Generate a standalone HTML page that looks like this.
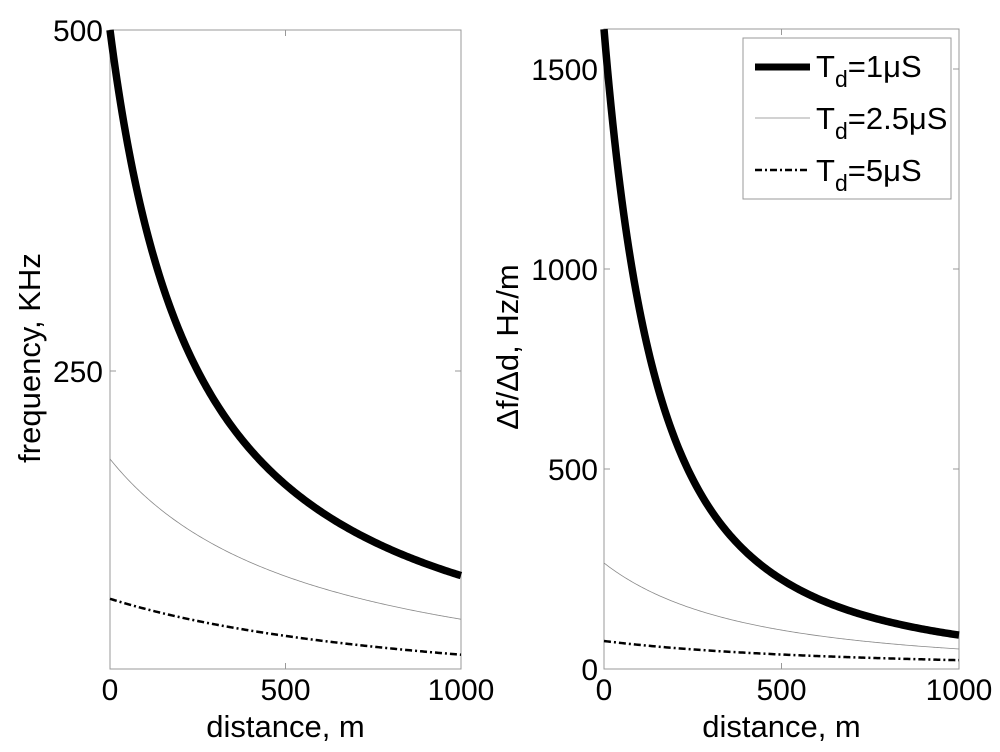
<!DOCTYPE html>
<html><head><meta charset="utf-8"><style>
body{margin:0;background:#fff;width:1000px;height:752px;overflow:hidden}
svg{display:block;font-family:"Liberation Sans",Arial,sans-serif}
</style></head><body>
<svg id="s" width="1000" height="752" viewBox="0 0 1000 752">
<rect width="1000" height="752" fill="#fff"/>
<rect x="110" y="30" width="351" height="639" fill="none" stroke="#999" stroke-width="1"/>
<g stroke="#999" stroke-width="1">
<line x1="285.5" y1="669" x2="285.5" y2="663"/><line x1="285.5" y1="30" x2="285.5" y2="36"/>
<line x1="110" y1="371" x2="116" y2="371"/><line x1="461" y1="371" x2="455" y2="371"/>
<line x1="604" y1="469" x2="610" y2="469"/><line x1="959" y1="469" x2="953" y2="469"/>
<line x1="604" y1="269" x2="610" y2="269"/><line x1="959" y1="269" x2="953" y2="269"/>
<line x1="604" y1="69" x2="610" y2="69"/><line x1="959" y1="69" x2="953" y2="69"/>
<line x1="781.5" y1="669" x2="781.5" y2="663"/><line x1="781.5" y1="29" x2="781.5" y2="35"/>
</g>
<rect x="604" y="29" width="355" height="640" fill="none" stroke="#999" stroke-width="1"/>
<g font-size="30" fill="#000">
<text x="103" y="41" text-anchor="end">500</text>
<text x="103" y="382" text-anchor="end">250</text>
<text x="110" y="700" text-anchor="middle">0</text>
<text x="285.5" y="700" text-anchor="middle">500</text>
<text x="461" y="700" text-anchor="middle">1000</text>
<text x="598" y="80" text-anchor="end">1500</text>
<text x="598" y="280" text-anchor="end">1000</text>
<text x="598" y="480" text-anchor="end">500</text>
<text x="598" y="680" text-anchor="end">0</text>
<text x="604" y="700" text-anchor="middle">0</text>
<text x="781.5" y="700" text-anchor="middle">500</text>
<text x="959" y="700" text-anchor="middle">1000</text>
</g>
<g font-size="31" fill="#000">
<text x="285.5" y="737" text-anchor="middle">distance, m</text>
<text x="781.5" y="737" text-anchor="middle">distance, m</text>
<text transform="translate(40,358) rotate(-90)" text-anchor="middle">frequency, KHz</text>
<text transform="translate(518,347) rotate(-90)" text-anchor="middle">Δf/Δd, Hz/m</text>
</g>
<g id="curves" fill="none"></g>
<rect x="743" y="38" width="208" height="161" fill="#fff" stroke="#999" stroke-width="1"/>
<line x1="755" y1="67" x2="810" y2="67" stroke="#000" stroke-width="7"/>
<line x1="755" y1="118" x2="810" y2="118" stroke="#888" stroke-width="0.8"/>
<line x1="755" y1="170" x2="810" y2="170" stroke="#000" stroke-width="2.5" stroke-dasharray="7,3,2,3"/>
<g font-size="31" fill="#000">
<text x="816" y="77">T<tspan font-size="23" dy="10">d</tspan><tspan dy="-10">=1μS</tspan></text>
<text x="816" y="129">T<tspan font-size="23" dy="10">d</tspan><tspan dy="-10">=2.5μS</tspan></text>
<text x="816" y="181">T<tspan font-size="23" dy="10">d</tspan><tspan dy="-10">=5μS</tspan></text>
</g>
</svg>
<script>
(function(){
var g=document.getElementById('curves');
function path(fn,xm,ym,attrs){
 var d='';
 for(var i=0;i<=200;i++){var x=i*5;var X=xm(x),Y=ym(fn(x));d+=(i?'L':'M')+X.toFixed(2)+' '+Y.toFixed(2);}
 var p=document.createElementNS('http://www.w3.org/2000/svg','path');
 p.setAttribute('d',d);for(var k in attrs)p.setAttribute(k,attrs[k]);g.appendChild(p);
}
var lx=function(d){return 110+d*0.351},ly=function(v){return 30+(500-v)*1.364};
var rx=function(d){return 604+d*0.355},ry=function(v){return Math.max(29,669-v*0.4)};
var thick={stroke:'#000','stroke-width':7.5},thin={stroke:'#888','stroke-width':0.8},dd={stroke:'#000','stroke-width':2.5,'stroke-dasharray':'7,3,2,3'};
path(function(d){return 125000/(d+250)},lx,ly,thick);
path(function(d){return 107400/(d+579)},lx,ly,thin);
path(function(d){return 85000/(d+1024)},lx,ly,dd);
path(function(d){return 1.43e8/Math.pow(d+299,2)},rx,ry,thick);
path(function(d){return 1.567e8/Math.pow(d+769,2)},rx,ry,thin);
path(function(d){return 1.147e8/Math.pow(d+1280,2)},rx,ry,dd);
})();
</script>
</body></html>
